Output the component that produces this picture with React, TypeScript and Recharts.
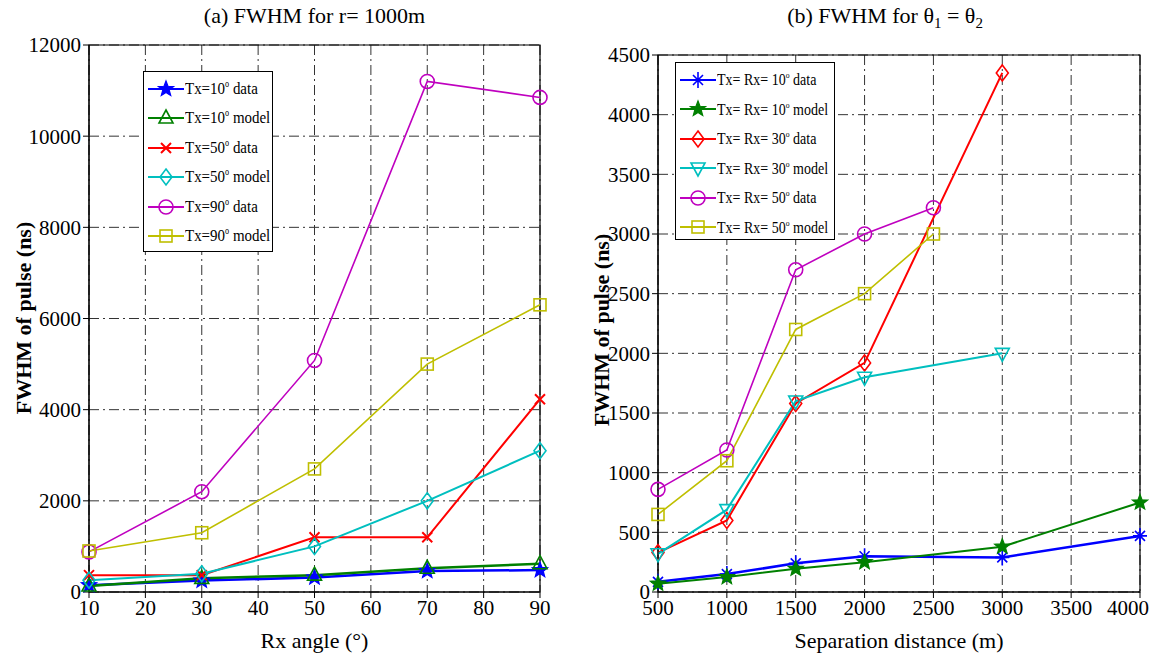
import React from "react";
import {
  LineChart,
  Line,
  XAxis,
  YAxis,
  CartesianGrid,
  Legend,
  ReferenceArea,
} from "recharts";

// (a) FWHM for r = 1000m
const rxAngles = [10, 30, 50, 70, 90];
const tx10Data = [150, 250, 320, 460, 480];
const tx10Model = [130, 300, 370, 520, 620];
const tx50Data = [370, 370, 1200, 1200, 4230];
const tx50Model = [260, 400, 1000, 2000, 3100];
const tx90Data = [880, 2200, 5080, 11200, 10850];
const tx90Model = [900, 1300, 2700, 5000, 6300];
const angleTicks = [10, 20, 30, 40, 50, 60, 70, 80, 90];
const fwhmTicksA = [0, 2000, 4000, 6000, 8000, 10000, 12000];

// (b) FWHM for theta1 = theta2
const distances = [500, 1000, 1500, 2000, 2500, 3000, 4000];
const rx10Data = [85, 150, 240, 300, null, 290, 470];
const rx10Model = [70, 125, 195, 250, null, 380, 750];
const rx30Data = [330, 600, 1580, 1920, null, 4350, null];
const rx30Model = [320, 690, 1600, 1800, null, 2000, null];
const rx50Data = [860, 1190, 2700, 3000, 3220, null, null];
const rx50Model = [650, 1100, 2200, 2500, 3000, null, null];
const distTicks = [500, 1000, 1500, 2000, 2500, 3000, 3500, 4000];
const fwhmTicksB = [0, 500, 1000, 1500, 2000, 2500, 3000, 3500, 4000, 4500];

type Shape = "star" | "triUp" | "x" | "diamond" | "circle" | "square" | "asterisk" | "triDown";

interface Series {
  key: string;
  label: string;
  suffix: string;
  color: string;
  shape: Shape;
  width: number;
  values: (number | null)[];
}

const leftSeries: Series[] = [
  { key: "tx10Data", label: "Tx=10", suffix: "data", color: "#0000ff", shape: "star", width: 2.5, values: tx10Data },
  { key: "tx10Model", label: "Tx=10", suffix: "model", color: "#008000", shape: "triUp", width: 2.5, values: tx10Model },
  { key: "tx50Data", label: "Tx=50", suffix: "data", color: "#ff0000", shape: "x", width: 2, values: tx50Data },
  { key: "tx50Model", label: "Tx=50", suffix: "model", color: "#00bfbf", shape: "diamond", width: 2, values: tx50Model },
  { key: "tx90Data", label: "Tx=90", suffix: "data", color: "#bf00bf", shape: "circle", width: 1.6, values: tx90Data },
  { key: "tx90Model", label: "Tx=90", suffix: "model", color: "#bfbf00", shape: "square", width: 1.6, values: tx90Model },
];

const rightSeries: Series[] = [
  { key: "rx10Data", label: "Tx= Rx= 10", suffix: "data", color: "#0000ff", shape: "asterisk", width: 2.5, values: rx10Data },
  { key: "rx10Model", label: "Tx= Rx= 10", suffix: "model", color: "#008000", shape: "star", width: 2, values: rx10Model },
  { key: "rx30Data", label: "Tx= Rx= 30", suffix: "data", color: "#ff0000", shape: "diamond", width: 2, values: rx30Data },
  { key: "rx30Model", label: "Tx= Rx= 30", suffix: "model", color: "#00bfbf", shape: "triDown", width: 2, values: rx30Model },
  { key: "rx50Data", label: "Tx= Rx= 50", suffix: "data", color: "#bf00bf", shape: "circle", width: 1.6, values: rx50Data },
  { key: "rx50Model", label: "Tx= Rx= 50", suffix: "model", color: "#bfbf00", shape: "square", width: 1.6, values: rx50Model },
];

const leftRows = rxAngles.map((a, i) => {
  const row: Record<string, number | null> = { angle: a };
  leftSeries.forEach((s) => (row[s.key] = s.values[i]));
  return row;
});

const rightRows = distances.map((d, i) => {
  const row: Record<string, number | null> = { dist: d };
  rightSeries.forEach((s) => (row[s.key] = s.values[i]));
  return row;
});

function MarkerShape({ shape, x, y, color }: { shape: Shape; x: number; y: number; color: string }) {
  const common = { stroke: color, strokeWidth: 1.6, fill: "none" };
  switch (shape) {
    case "circle":
      return <circle cx={x} cy={y} r={7} {...common} />;
    case "square":
      return <rect x={x - 6} y={y - 6} width={12} height={12} {...common} />;
    case "diamond":
      return <polygon points={`${x},${y - 8} ${x + 6},${y} ${x},${y + 8} ${x - 6},${y}`} {...common} />;
    case "triUp":
      return <polygon points={`${x},${y - 8} ${x + 7},${y + 5} ${x - 7},${y + 5}`} {...common} />;
    case "triDown":
      return <polygon points={`${x - 7},${y - 5} ${x + 7},${y - 5} ${x},${y + 8}`} {...common} />;
    case "x":
      return <path d={`M${x - 5},${y - 5}L${x + 5},${y + 5}M${x + 5},${y - 5}L${x - 5},${y + 5}`} {...common} strokeWidth={2} />;
    case "asterisk":
      return (
        <path
          d={`M${x},${y - 8}L${x},${y + 8}M${x - 7},${y}L${x + 7},${y}M${x - 5},${y - 5}L${x + 5},${y + 5}M${x + 5},${y - 5}L${x - 5},${y + 5}`}
          {...common}
        />
      );
    case "star": {
      const pts: string[] = [];
      for (let k = 0; k < 10; k++) {
        const r = k % 2 === 0 ? 8 : 3.4;
        const a = -Math.PI / 2 + (k * Math.PI) / 5;
        pts.push(`${x + r * Math.cos(a)},${y + r * Math.sin(a)}`);
      }
      return <polygon points={pts.join(" ")} stroke={color} strokeWidth={1.2} fill={color} />;
    }
  }
  return null;
}

const dotFor = (s: Series) => (props: any) => {
  const { cx, cy, index, value } = props;
  if (cx == null || cy == null || value == null || Number.isNaN(cy)) return <g key={`e${index}`} />;
  return (
    <g key={`d${index}`}>
      <MarkerShape shape={s.shape} x={cx} y={cy} color={s.color} />
    </g>
  );
};

function LegendBox({ series, fontSize, squeeze }: { series: Series[]; fontSize: number; squeeze: number }) {
  return (
    <div
      style={{
        border: "1px solid #000",
        background: "#fff",
        boxSizing: "border-box",
        width: "100%",
        height: "100%",
        paddingTop: 2,
        paddingLeft: 4,
      }}
    >
      {series.map((s) => (
        <div key={s.key} style={{ height: 29.5, display: "flex", alignItems: "center" }}>
          <svg width={36} height={20} style={{ flex: "none" }}>
            <line x1={0} y1={10} x2={36} y2={10} stroke={s.color} strokeWidth={2} />
            <MarkerShape shape={s.shape} x={18} y={10} color={s.color} />
          </svg>
          <span
            style={{
              display: "inline-block",
              marginLeft: 1,
              fontSize,
              whiteSpace: "nowrap",
              transform: `scaleX(${squeeze})`,
              transformOrigin: "left center",
            }}
          >
            {s.label}
            <span style={{ fontSize: "0.55em", verticalAlign: "0.8em" }}>o</span> {s.suffix}
          </span>
        </div>
      ))}
    </div>
  );
}

const tickStyle = { fontSize: 21, fill: "#000" };
const gridDash = "10 4 2 4";

const yTitle = (x: number, y: number) => () => (
  <text
    x={x}
    y={y}
    transform={`rotate(-90 ${x} ${y})`}
    textAnchor="middle"
    fontSize={22}
    fontWeight="bold"
    fill="#000"
  >
    FWHM of pulse (ns)
  </text>
);

const xTitle = (text: string) => (props: any) => {
  const vb = props.viewBox;
  return (
    <text x={vb.x + vb.width / 2} y={vb.y + vb.height - 8} textAnchor="middle" fontSize={22} fill="#000">
      {text}
    </text>
  );
};

export default function App() {
  return (
    <div
      style={{
        position: "absolute",
        left: 0,
        top: 0,
        width: 1149,
        height: 656,
        background: "#fff",
        fontFamily: "'Liberation Serif', 'Times New Roman', Times, serif",
        color: "#000",
        overflow: "hidden",
      }}
    >
      <div style={{ position: "absolute", left: 89, width: 451, top: 1, textAlign: "center", fontSize: 22, lineHeight: "30px" }}>
        (a) FWHM for r= 1000m
      </div>
      <div style={{ position: "absolute", left: 658, width: 454, top: 1, textAlign: "center", fontSize: 22, lineHeight: "30px" }}>
        (b) FWHM for θ<sub style={{ fontSize: 15 }}>1</sub> = θ<sub style={{ fontSize: 15 }}>2</sub>
      </div>

      <div style={{ position: "absolute", left: 0, top: 0 }}>
        <LineChart width={560} height={656} data={leftRows} margin={{ top: 45, right: 20, bottom: 0, left: 0 }}>
          <CartesianGrid stroke="#333" strokeDasharray={gridDash} />
          <XAxis
            dataKey="angle"
            type="number"
            domain={[10, 90]}
            ticks={angleTicks}
            height={64}
            tick={tickStyle}
            stroke="#000"
            label={{ content: xTitle("Rx angle (°)") }}
          />
          <YAxis
            type="number"
            domain={[0, 12000]}
            ticks={fwhmTicksA}
            width={89}
            tick={tickStyle}
            stroke="#000"
            label={{ content: yTitle(31, 318) }}
          />
          <ReferenceArea x1={10} x2={90} y1={0} y2={12000} fill="none" stroke="#000" strokeWidth={1.2} />
          {leftSeries.map((s) => (
            <Line
              key={s.key}
              dataKey={s.key}
              stroke={s.color}
              strokeWidth={s.width}
              dot={dotFor(s)}
              activeDot={false}
              isAnimationActive={false}
              connectNulls
            />
          ))}
          <Legend
            layout="vertical"
            align="center"
            verticalAlign="middle"
            wrapperStyle={{ left: 143, top: 71, width: 130, height: 181 }}
            content={() => <LegendBox series={leftSeries} fontSize={17} squeeze={0.88} />}
          />
        </LineChart>
      </div>

      <div style={{ position: "absolute", left: 560, top: 0 }}>
        <LineChart width={589} height={656} data={rightRows} margin={{ top: 55, right: 9, bottom: 0, left: 0 }}>
          <CartesianGrid stroke="#333" strokeDasharray={gridDash} />
          <XAxis
            dataKey="dist"
            type="number"
            domain={[500, 4000]}
            ticks={distTicks}
            height={64}
            tick={tickStyle}
            stroke="#000"
            label={{ content: xTitle("Separation distance (m)") }}
          />
          <YAxis
            type="number"
            domain={[0, 4500]}
            ticks={fwhmTicksB}
            width={98}
            tick={tickStyle}
            stroke="#000"
            label={{ content: yTitle(49, 330) }}
          />
          <ReferenceArea x1={500} x2={4000} y1={0} y2={4500} fill="none" stroke="#000" strokeWidth={1.2} />
          {rightSeries.map((s) => (
            <Line
              key={s.key}
              dataKey={s.key}
              stroke={s.color}
              strokeWidth={s.width}
              dot={dotFor(s)}
              activeDot={false}
              isAnimationActive={false}
              connectNulls
            />
          ))}
          <Legend
            layout="vertical"
            align="center"
            verticalAlign="middle"
            wrapperStyle={{ left: 115, top: 62, width: 160, height: 178 }}
            content={() => <LegendBox series={rightSeries} fontSize={16} squeeze={0.875} />}
          />
        </LineChart>
      </div>
    </div>
  );
}
